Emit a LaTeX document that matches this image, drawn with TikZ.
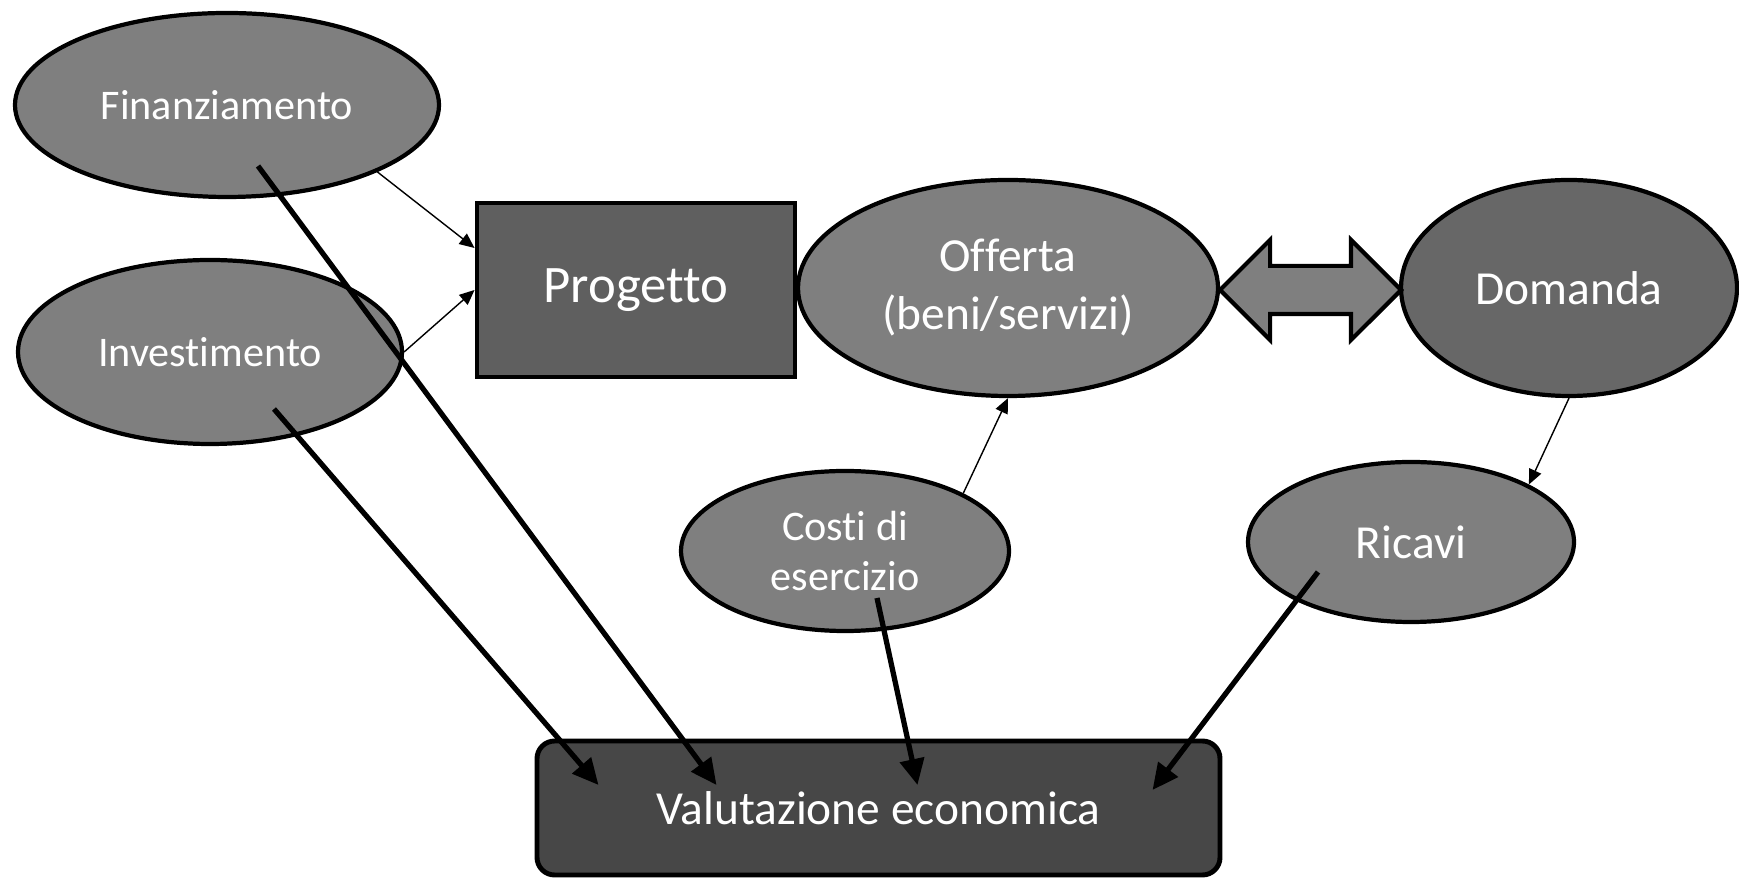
\documentclass[tikz,border=0pt]{standalone}
\usepackage{fontspec}
\setmainfont[Ligatures={NoCommon}]{Carlito}
\usepackage{tikz}
\usetikzlibrary{arrows.meta,shapes.geometric,shapes.arrows}
\definecolor{grigio}{HTML}{7F7F7F}
\definecolor{grigioscuro}{HTML}{5F5F5F}
\definecolor{grigiodom}{HTML}{676767}
\definecolor{antracite}{HTML}{474747}
\tikzset{
  ellisse/.style={ellipse,draw=black,line width=1.2pt,fill=grigio,inner sep=0pt,align=center,
                  text=white,font=\fontsize{12}{14.5}\selectfont},
  grande/.style={font=\fontsize{13.5}{16.5}\selectfont},
  scatola/.style={draw=black,line width=1.4pt,text=white,inner sep=0pt},
  freccia/.style={-{Triangle[length=1.5mm,width=1.3mm]},line width=0.4pt},
  frecciona/.style={-{Triangle[length=2.6mm,width=2.4mm]},line width=1.5pt},
}

\begin{document}
\begin{tikzpicture}
  \useasboundingbox (0,0) rectangle (17.39,8.78);
  \node[ellisse,minimum width=4.24cm,minimum height=1.84cm] (fin) at (2.27,7.73) {Finanziamento};
  \node[ellisse,minimum width=3.84cm,minimum height=1.84cm] (inv) at (2.10,5.26) {Investimento};
  \node[scatola,fill=grigioscuro,minimum width=3.18cm,minimum height=1.74cm,font=\fontsize{15}{18}\selectfont] (prog) at (6.36,5.88) {Progetto};
  \node[ellisse,grande,minimum width=4.20cm,minimum height=2.16cm] (off) at (10.08,5.90) {Offerta\\(beni/servizi)};
  \node[ellisse,grande,fill=grigiodom,minimum width=3.36cm,minimum height=2.16cm] (dom) at (15.69,5.90) {Domanda};
  \node[double arrow,draw=black,line width=1.2pt,fill=grigio,inner xsep=0pt,inner ysep=0.22cm,
        minimum height=1.81cm,double arrow head extend=0.26cm] (scambio) at (13.105,5.88) {};
  \node[ellisse,minimum width=3.28cm,minimum height=1.60cm] (costi) at (8.45,3.27) {Costi di\\esercizio};
  \node[ellisse,grande,minimum width=3.26cm,minimum height=1.60cm] (ric) at (14.11,3.36) {Ricavi};
  \node[scatola,grande,fill=antracite,rounded corners=5pt,minimum width=6.83cm,minimum height=1.34cm] (val) at (8.785,0.70) {Valutazione economica};

  % frecce sottili
  \draw[freccia] (fin.-24) -- ([yshift=4.2mm]prog.west);
  \draw[freccia] (inv.east) -- (prog.west);
  \draw[freccia] (costi.26) -- (off.south);
  \draw[freccia] (dom.south) -- (ric.26);

  % verso la valutazione
  \draw[frecciona] ([xshift=3.1mm,yshift=-6.1mm]fin.center) -- ([xshift=-16.2mm,yshift=2.3mm]val.center);
  \draw[frecciona] ([xshift=6.4mm,yshift=-5.7mm]inv.center) -- ([xshift=-28mm,yshift=2.3mm]val.center);
  \draw[frecciona] ([xshift=3.2mm,yshift=-4.7mm]costi.center) -- ([xshift=3.9mm,yshift=2.3mm]val.center);
  \draw[frecciona] ([xshift=-9.3mm,yshift=-3mm]ric.center) -- ([xshift=27.4mm,yshift=1.8mm]val.center);
\end{tikzpicture}
\end{document}
